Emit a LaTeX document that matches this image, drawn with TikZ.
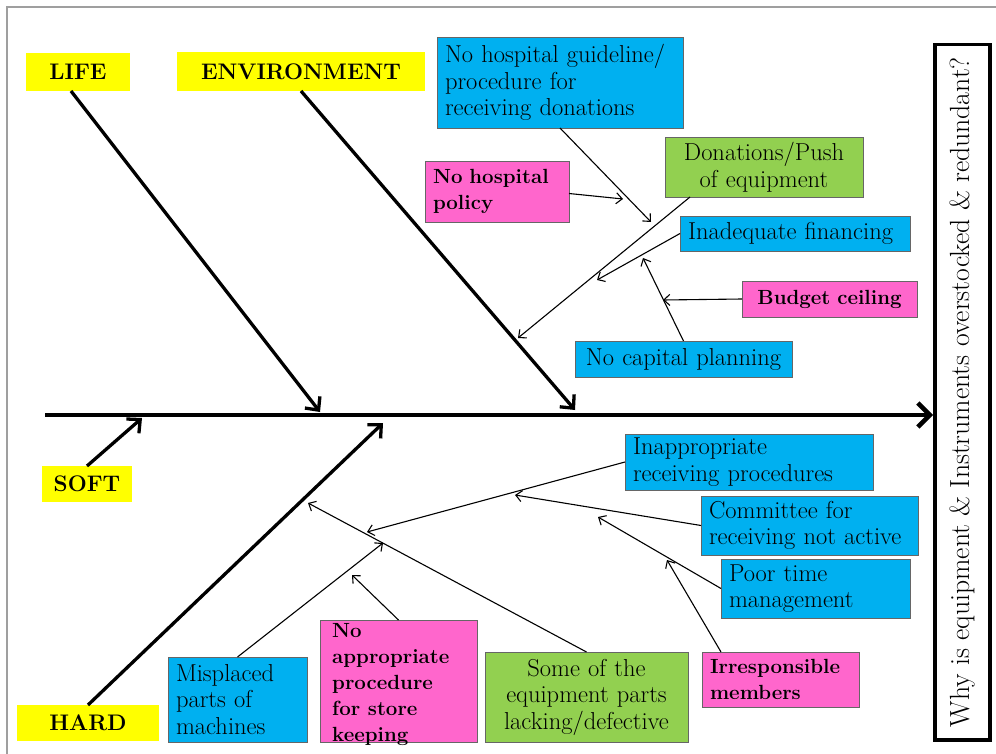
\documentclass[tikz,border=0pt]{standalone}
\usetikzlibrary{arrows.meta,calc}
\definecolor{catyellow}{RGB}{255,255,0}
\definecolor{causeblue}{RGB}{0,176,240}
\definecolor{causepink}{RGB}{255,102,204}
\definecolor{causegreen}{RGB}{146,208,80}
\begin{document}
\begin{tikzpicture}[x=1pt,y=-1pt,
  catbox/.style={fill=catyellow, inner sep=0pt, outer sep=0pt, anchor=north west,
    font=\fontsize{22.5}{26}\selectfont\bfseries},
  cause/.style={draw=black!60, line width=0.8pt, inner xsep=8pt, inner ysep=0pt,
    outer sep=0pt, anchor=north west, align=left, font=\fontsize{24.5}{26.5}\selectfont},
  bcause/.style={cause, font=\fontsize{20.5}{26.5}\selectfont\bfseries},
  spine/.style={line width=4.5pt, -{Straight Barb[length=12pt,width=24pt]}},
  bone/.style={line width=3.3pt, -{Straight Barb[length=10pt,width=19pt]}},
  twig/.style={line width=1.1pt, -{Straight Barb[length=6pt,width=11pt]}},
]
\useasboundingbox (0,0) rectangle (996,754);
% page frame
\draw[gray!75, line width=1.3pt] (7,754) -- (7,7) -- (996,7);

% effect box
\node[draw, line width=3.5pt, minimum width=55pt, minimum height=695pt,
      inner sep=0pt, anchor=north west] (effect) at (933,43) {};
\node[rotate=90, font=\fontsize{27.7}{30}\selectfont] (question) at (effect.center)
  {Why is equipment \& Instruments overstocked \& redundant?};

% category labels
\node[catbox, minimum width=104pt, minimum height=38pt] (life) at (26,53) {LIFE};
\node[catbox, minimum width=248pt, minimum height=39pt] (env) at (177,52) {ENVIRONMENT};
\node[catbox, minimum width=90pt, minimum height=36pt] (soft) at (42,466) {SOFT};
\node[catbox, minimum width=142pt, minimum height=36pt] (hard) at (17,705) {HARD};

% causes above the spine
\node[cause, fill=causeblue, text width=230pt, minimum height=91pt] (guide) at (437,37)
  {No hospital guideline/\\procedure for\\receiving donations};
\node[cause, fill=causegreen, text width=182pt, minimum height=60pt, align=center] (donat) at (665,137)
  {Donations/Push\\of equipment};
\node[bcause, fill=causepink, text width=128pt, minimum height=61pt] (policy) at (425,161)
  {No hospital\\policy};
\node[cause, fill=causeblue, text width=214pt, minimum height=35pt] (finance) at (680,216)
  {Inadequate financing};
\node[bcause, fill=causepink, text width=159pt, minimum height=36pt, align=center] (budget) at (742,281)
  {Budget ceiling};
\node[cause, fill=causeblue, text width=201pt, minimum height=36pt, align=center] (capital) at (575,341)
  {No capital planning};

% causes below the spine
\node[cause, fill=causeblue, text width=232pt, minimum height=56pt] (inappr) at (625,434)
  {Inappropriate\\receiving procedures};
\node[cause, fill=causeblue, text width=201pt, minimum height=59pt] (commit) at (701,496)
  {Committee for\\receiving not active};
\node[cause, fill=causeblue, text width=173pt, minimum height=59pt] (poor) at (721,559)
  {Poor time\\management};
\node[bcause, fill=causepink, text width=141pt, minimum height=55pt] (irresp) at (702,652)
  {Irresponsible\\members};
\node[cause, fill=causegreen, text width=187pt, minimum height=90pt, align=center] (some) at (485,652)
  {Some of the\\equipment parts\\lacking/defective};
\node[bcause, fill=causepink, text width=141pt, minimum height=122pt] (noapp) at (320,620) {};
\node[anchor=north west, inner sep=0pt, align=left, font=\fontsize{20.5}{26}\selectfont\bfseries]
  (noapptext) at (332,623) {No\\appropriate\\procedure\\for store\\keeping};
\node[cause, fill=causeblue, text width=123pt, minimum height=85pt] (misplace) at (168,657)
  {Misplaced\\parts of\\machines};

% spine and main bones
\coordinate (spinestart) at (45,415);
\draw[spine] (spinestart) -- (effect.west |- spinestart);
\coordinate (lifetip) at (320,412);
\coordinate (envtip) at (575,410);
\coordinate (softtip) at (142,418);
\coordinate (hardtip) at (383,423);
\draw[bone] ($(life.south)+(-7,0)$) -- (lifetip);
\draw[bone] (env.south) -- (envtip);
\draw[bone] (soft.north) -- (softtip);
\draw[bone] (hard.north) -- (hardtip);

% sub-cause arrows, upper half
\coordinate (tguide) at (651,222);
\coordinate (tpolicy) at (623,199);
\coordinate (tdonat) at (518,338);
\coordinate (tfin) at (597,280);
\coordinate (tcap) at (643,258);
\coordinate (tbud) at (663,300);
\draw[twig] (guide.south) -- (tguide);
\draw[twig] ($(policy.east)+(0,2)$) -- (tpolicy);
\draw[twig] ($(donat.south west)+(25,0)$) -- (tdonat);
\draw[twig] (finance.west) -- (tfin);
\draw[twig] (capital.north) -- (tcap);
\draw[twig] (budget.west) -- (tbud);

% sub-cause arrows, lower half
\coordinate (tinap) at (367,532);
\coordinate (tcom) at (515,495);
\coordinate (tpoor) at (598,517);
\coordinate (tirr) at (667,560);
\coordinate (tsome) at (308,503);
\coordinate (tmis) at (383,543);
\coordinate (tnoapp) at (352,575);
\draw[twig] (inappr.west) -- (tinap);
\draw[twig] (commit.west) -- (tcom);
\draw[twig] (poor.west) -- (tpoor);
\draw[twig] ($(irresp.north west)+(19,0)$) -- (tirr);
\draw[twig] (some.north) -- (tsome);
\draw[twig] (misplace.north) -- (tmis);
\draw[twig] (noapp.north) -- (tnoapp);
\end{tikzpicture}
\end{document}
